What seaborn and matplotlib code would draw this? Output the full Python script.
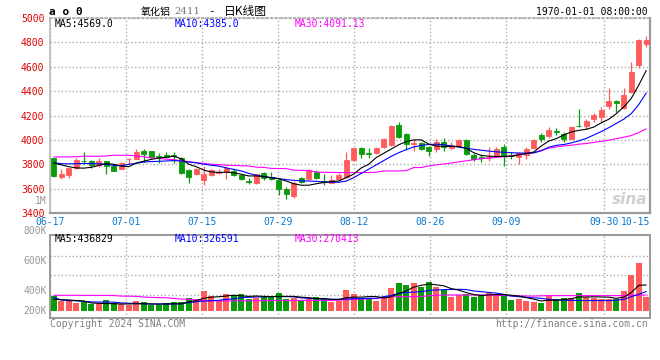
#!/usr/bin/env python3
"""
氧化铝2411 daily K-line chart (candles + volume), Sina finance style
"""

import numpy as np
import pandas as pd
import matplotlib
matplotlib.use('Agg')
import matplotlib.pyplot as plt
import seaborn as sns

# ---- values ----
tick_index = [0, 10, 20, 30, 40, 50, 60, 73, 79]
tick_labels = ['06-17', '07-01', '07-15', '07-29', '08-12', '08-26', '09-09', '09-30', '10-15']

opens = [3848, 3696, 3712, 3767, 3830, 3828, 3797, 3825, 3786, 3764,
         3840, 3845, 3908, 3908, 3865, 3875, 3875, 3855, 3751, 3718,
         3671, 3712, 3731, 3737, 3748, 3712, 3660, 3644, 3732, 3699,
         3671, 3594, 3539, 3685, 3677, 3740, 3663, 3649, 3677, 3699,
         3833, 3934, 3893, 3890, 3940, 3956, 4121, 4047, 3968, 3975,
         3942, 3924, 3979, 3935, 3946, 3997, 3878, 3858, 3854, 3875,
         3938, 3872, 3856, 3875, 3932, 4038, 4028, 4070, 4052, 4011,
         4116, 4114, 4169, 4191, 4275, 4316, 4261, 4392, 4612, 4789]
closes = [3704, 3718, 3767, 3833, 3826, 3795, 3830, 3786, 3745, 3811,
          3845, 3897, 3887, 3862, 3855, 3862, 3865, 3731, 3696, 3759,
          3718, 3751, 3740, 3773, 3712, 3677, 3655, 3718, 3691, 3682,
          3597, 3553, 3649, 3657, 3751, 3688, 3657, 3674, 3710, 3833,
          3931, 3882, 3888, 3934, 4006, 4115, 4020, 3970, 3972, 3926,
          3909, 3984, 3938, 3962, 4000, 3884, 3843, 3854, 3858, 3924,
          3875, 3868, 3892, 3924, 3997, 4006, 4082, 4066, 4006, 4106,
          4112, 4153, 4201, 4242, 4316, 4299, 4370, 4561, 4822, 4822]
highs = [3850, 3759, 3773, 3848, 3897, 3838, 3848, 3828, 3797, 3822,
         3855, 3923, 3923, 3911, 3892, 3897, 3897, 3863, 3759, 3773,
         3786, 3759, 3759, 3786, 3764, 3724, 3691, 3724, 3740, 3740,
         3682, 3611, 3663, 3696, 3759, 3751, 3721, 3710, 3732, 3904,
         3937, 3945, 3937, 3940, 4012, 4121, 4143, 4055, 4006, 3981,
         3951, 4006, 4019, 3979, 4006, 4006, 3892, 3884, 3938, 3938,
         3965, 3900, 3903, 3938, 4011, 4055, 4106, 4095, 4066, 4114,
         4250, 4174, 4222, 4269, 4427, 4327, 4427, 4637, 4827, 4849]
lows = [3696, 3682, 3685, 3759, 3800, 3770, 3781, 3718, 3742, 3759,
        3805, 3841, 3822, 3855, 3814, 3855, 3808, 3718, 3649, 3711,
        3633, 3701, 3718, 3682, 3701, 3668, 3636, 3636, 3668, 3668,
        3545, 3518, 3526, 3649, 3671, 3682, 3630, 3644, 3668, 3691,
        3827, 3855, 3855, 3887, 3937, 3951, 4014, 3918, 3909, 3918,
        3868, 3897, 3911, 3924, 3938, 3875, 3829, 3816, 3829, 3870,
        3788, 3843, 3802, 3843, 3924, 3984, 4019, 4038, 3984, 4006,
        4108, 4092, 4147, 4147, 4250, 4228, 4250, 4381, 4591, 4762]

ma5 = [3810, 3795, 3780, 3770, 3768, 3775, 3790, 3805, 3800, 3785,
       3780, 3810, 3825, 3840, 3850, 3858, 3866, 3845, 3800, 3780,
       3752, 3737, 3733, 3735, 3730, 3718, 3704, 3704, 3698, 3690,
       3682, 3662, 3640, 3628, 3628, 3640, 3650, 3658, 3663, 3690,
       3720, 3770, 3800, 3855, 3890, 3925, 3960, 3985, 4000, 4000,
       3965, 3950, 3946, 3946, 3946, 3930, 3895, 3872, 3866, 3864,
       3864, 3866, 3878, 3888, 3900, 3950, 3990, 4010, 4040, 4065,
       4078, 4087, 4105, 4140, 4169, 4215, 4270, 4340, 4450, 4569]
ma10 = [3812, 3805, 3803, 3805, 3806, 3806, 3804, 3800, 3790, 3788,
        3800, 3808, 3818, 3822, 3824, 3827, 3830, 3827, 3818, 3812,
        3800, 3792, 3785, 3770, 3758, 3745, 3725, 3710, 3700, 3690,
        3682, 3674, 3668, 3664, 3662, 3660, 3655, 3652, 3652, 3662,
        3690, 3725, 3760, 3795, 3830, 3865, 3895, 3920, 3942, 3955,
        3962, 3965, 3960, 3950, 3940, 3932, 3922, 3915, 3908, 3902,
        3898, 3895, 3892, 3891, 3893, 3910, 3940, 3955, 3962, 3975,
        3992, 4012, 4040, 4068, 4100, 4135, 4170, 4215, 4290, 4385]
ma30 = [3860, 3860, 3860, 3862, 3866, 3866, 3866, 3868, 3874, 3874,
        3874, 3868, 3862, 3852, 3848, 3841, 3838, 3828, 3822, 3812,
        3808, 3800, 3797, 3792, 3790, 3788, 3786, 3776, 3774, 3766,
        3765, 3764, 3752, 3750, 3748, 3736, 3734, 3733, 3732, 3732,
        3732, 3732, 3732, 3734, 3745, 3745, 3745, 3748, 3773, 3773,
        3786, 3795, 3802, 3810, 3820, 3828, 3837, 3845, 3850, 3856,
        3862, 3870, 3878, 3886, 3895, 3915, 3932, 3942, 3950, 3956,
        3965, 3970, 3979, 3988, 3997, 4010, 4022, 4035, 4060, 4091]

# volume in thousands
volume_k = [257, 160, 185, 139, 156, 118, 118, 185, 129, 118,
            101, 168, 151, 101, 101, 139, 156, 156, 218, 202,
            336, 252, 185, 286, 264, 286, 202, 223, 252, 247,
            302, 202, 223, 185, 202, 235, 202, 156, 168, 353,
            286, 202, 202, 168, 235, 386, 470, 437, 470, 398,
            487, 408, 353, 235, 269, 286, 235, 269, 297, 286,
            286, 185, 202, 168, 151, 134, 252, 202, 218, 218,
            302, 235, 218, 202, 202, 202, 336, 605, 811, 235]
vol_ma5 = [196, 190, 185, 175, 168, 135, 128, 125, 122, 118,
           118, 122, 120, 118, 115, 118, 120, 122, 154, 174,
           214, 233, 239, 252, 265, 255, 245, 252, 245, 242,
           245, 245, 245, 232, 223, 209, 209, 196, 193, 223,
           233, 233, 242, 242, 219, 239, 292, 339, 400, 432,
           452, 440, 423, 376, 350, 310, 276, 259, 271, 275,
           275, 265, 251, 225, 198, 168, 181, 181, 191, 205,
           238, 235, 238, 235, 232, 212, 232, 309, 431, 437]
vol_ma10 = [230, 185, 175, 172, 160, 152, 150, 150, 148, 135,
            130, 128, 122, 118, 118, 118, 118, 120, 140, 155,
            168, 172, 180, 195, 205, 224, 230, 235, 238, 241,
            241, 241, 238, 220, 213, 205, 200, 196, 196, 200,
            207, 210, 212, 213, 241, 260, 297, 310, 318, 325,
            345, 353, 358, 362, 364, 360, 336, 325, 312, 300,
            280, 250, 241, 230, 220, 213, 195, 185, 180, 178,
            176, 176, 175, 175, 174, 180, 196, 240, 280, 327]
vol_ma30 = [263, 263, 263, 263, 262, 262, 262, 262, 260, 250,
            248, 246, 235, 228, 224, 222, 210, 200, 196, 185,
            172, 170, 170, 170, 170, 172, 172, 174, 174, 176,
            176, 176, 176, 178, 178, 178, 178, 178, 180, 190,
            196, 200, 205, 208, 230, 241, 241, 241, 241, 245,
            255, 265, 269, 269, 269, 269, 269, 268, 266, 264,
            260, 258, 255, 252, 250, 255, 258, 258, 258, 258,
            258, 258, 258, 258, 258, 258, 258, 262, 266, 270]

price_ticks = [3400, 3600, 3800, 4000, 4200, 4400, 4600, 4800, 5000]
vol_axis_labels = [('1M', 201), ('800K', 231), ('600K', 261), ('400K', 291), ('200K', 311)]

# ---- styling ----
RED = '#ff5b5b'
GREEN = '#0a9b0a'
GRID = '#aaaaaa'
SPINE = '#999999'
BLUE = '#0000ff'
MAGENTA = '#ff00ff'
DATE_BLUE = '#0a78d2'
MONO = 'DejaVu Sans Mono'
CJK = 'Noto Sans CJK SC'
LW = 0.8

sns.set_theme(style='white')
plt.rcParams['font.family'] = [MONO, CJK]
plt.rcParams['font.size'] = 7

W, H = 660, 360


def fx(px):
    return px / W


def fy(py):
    return 1 - py / H


df = pd.DataFrame({
    'open': opens, 'close': closes, 'high': highs, 'low': lows,
    'ma5': ma5, 'ma10': ma10, 'ma30': ma30,
    'vol': volume_k, 'vma5': vol_ma5, 'vma10': vol_ma10, 'vma30': vol_ma30,
})
df['idx'] = np.arange(len(df))
df['dir'] = np.where(df['close'] >= df['open'], 'up', 'down')
colors = df['dir'].map({'up': RED, 'down': GREEN}).tolist()

fig = plt.figure(figsize=(W / 100, H / 100), dpi=100)
fig.patch.set_facecolor('white')
ax = fig.add_axes([fx(50), fy(213), 600 / W, 195 / H])
axv = fig.add_axes([fx(50), fy(318), 600 / W, 83 / H])

n = len(df)
# Sina places the date grid on a slightly different scale than the candles
grid_x = [i * n / (n - 1) - 0.5 for i in tick_index]

# ---- price panel ----
ax.vlines(df['idx'], df['low'], df['high'], colors=colors, lw=0.9, zorder=3)
body = (df['close'] - df['open']).abs()
ax.bar(df['idx'], body, bottom=df[['open', 'close']].min(axis=1), width=0.7,
       color=colors, edgecolor=colors, lw=0.6, zorder=4)

sns.lineplot(data=df, x='idx', y='ma30', ax=ax, color=MAGENTA, lw=LW, zorder=5)
sns.lineplot(data=df, x='idx', y='ma10', ax=ax, color=BLUE, lw=LW, zorder=6)
sns.lineplot(data=df, x='idx', y='ma5', ax=ax, color='black', lw=LW, zorder=7)

ax.set_xlim(-0.5, n - 0.5)
ax.set_ylim(3400, 5000)
ax.set_yticks(price_ticks)
ax.set_yticklabels([str(v) for v in price_ticks])
ax.set_xticks(grid_x)
ax.set_xticklabels(tick_labels)
for lbl in ax.get_xticklabels()[-1:]:
    lbl.set_horizontalalignment('right')
ax.tick_params(axis='y', length=0, pad=4, labelsize=7, labelcolor='#e00000')
ax.tick_params(axis='x', length=0, pad=3, labelsize=7, labelcolor=DATE_BLUE)
ax.set_xlabel('')
ax.set_ylabel('')
ax.grid(True, ls=':', color=GRID, lw=1)
ax.set_axisbelow(True)
ax.spines['top'].set_linestyle(':')
ax.spines['top'].set_color(GRID)
ax.spines['left'].set_color('#bbbbbb')
ax.spines['bottom'].set_color(SPINE)
ax.spines['bottom'].set_linewidth(1.6)
ax.spines['right'].set_color(SPINE)
ax.spines['right'].set_linewidth(1.6)

# ---- volume panel ----
sns.barplot(data=df, x='idx', y='vol', hue='dir', palette={'up': RED, 'down': GREEN},
            dodge=False, legend=False, width=0.8, saturation=1, linewidth=0,
            errorbar=None, ax=axv, zorder=3)
sns.lineplot(x=df['idx'].values, y=df['vma30'].values, ax=axv, color=MAGENTA, lw=LW, zorder=5)
sns.lineplot(x=df['idx'].values, y=df['vma10'].values, ax=axv, color=BLUE, lw=LW, zorder=6)
sns.lineplot(x=df['idx'].values, y=df['vma5'].values, ax=axv, color='black', lw=LW, zorder=7)

vlo, vhi = -118, 1277
axv.set_xlim(-0.5, n - 0.5)
axv.set_ylim(vlo, vhi)
axv.set_yticks([vlo + f * (vhi - vlo) for f in (0.275, 0.514, 0.749)])
axv.set_yticklabels([])
axv.set_xticks(grid_x)
axv.set_xticklabels([])
axv.tick_params(length=0)
axv.set_xlabel('')
axv.set_ylabel('')
axv.grid(True, ls=':', color=GRID, lw=1)
axv.set_axisbelow(True)
for side in ['top', 'left', 'bottom', 'right']:
    axv.spines[side].set_color(SPINE)
    axv.spines[side].set_linewidth(1.4)

for text, py in vol_axis_labels:
    fig.text(fx(47), fy(py), text, ha='right', va='center', color='#999999', fontsize=7)

# ---- header / legends ----
fig.text(fx(49), fy(12), 'a o 0', ha='left', va='center', fontsize=8, fontweight='bold', color='black')
fig.text(fx(141), fy(11.5), '氧化铝', ha='left', va='center', fontsize=7.2, family=CJK, color='black')
fig.text(fx(174), fy(12), '2411', ha='left', va='center', fontsize=7.3, family='DejaVu Serif', color='#777777')
fig.text(fx(208), fy(11.5), '-', ha='left', va='center', fontsize=8, color='black')
fig.text(fx(224), fy(11.5), '日K线图', ha='left', va='center', fontsize=8.5, family=CJK, color='black')
fig.text(fx(648), fy(12), '1970-01-01 08:00:00', ha='right', va='center', fontsize=7, color='black')

fig.text(fx(55), fy(24), f'MA5:{ma5[-1]:.1f}', ha='left', va='center', fontsize=7, color='black')
fig.text(fx(175), fy(24), f'MA10:{ma10[-1]:.1f}', ha='left', va='center', fontsize=7, color=BLUE)
fig.text(fx(295), fy(24), 'MA30:4091.13', ha='left', va='center', fontsize=7, color=MAGENTA)

fig.text(fx(55), fy(239), 'MA5:436829', ha='left', va='center', fontsize=7, color='black')
fig.text(fx(175), fy(239), 'MA10:326591', ha='left', va='center', fontsize=7, color=BLUE)
fig.text(fx(295), fy(239), 'MA30:270413', ha='left', va='center', fontsize=7, color=MAGENTA)

fig.text(fx(50), fy(324), 'Copyright 2024 SINA.COM', ha='left', va='center', fontsize=7, color='#808080')
fig.text(fx(648), fy(324), 'http://finance.sina.com.cn', ha='right', va='center', fontsize=7, color='#808080')

# watermark
fig.text(fx(647), fy(199), 'sina', ha='right', va='center', fontsize=11, fontweight='bold',
         style='italic', family='DejaVu Sans', color='#d0d0d0')

fig.savefig('out.png', dpi=100)
